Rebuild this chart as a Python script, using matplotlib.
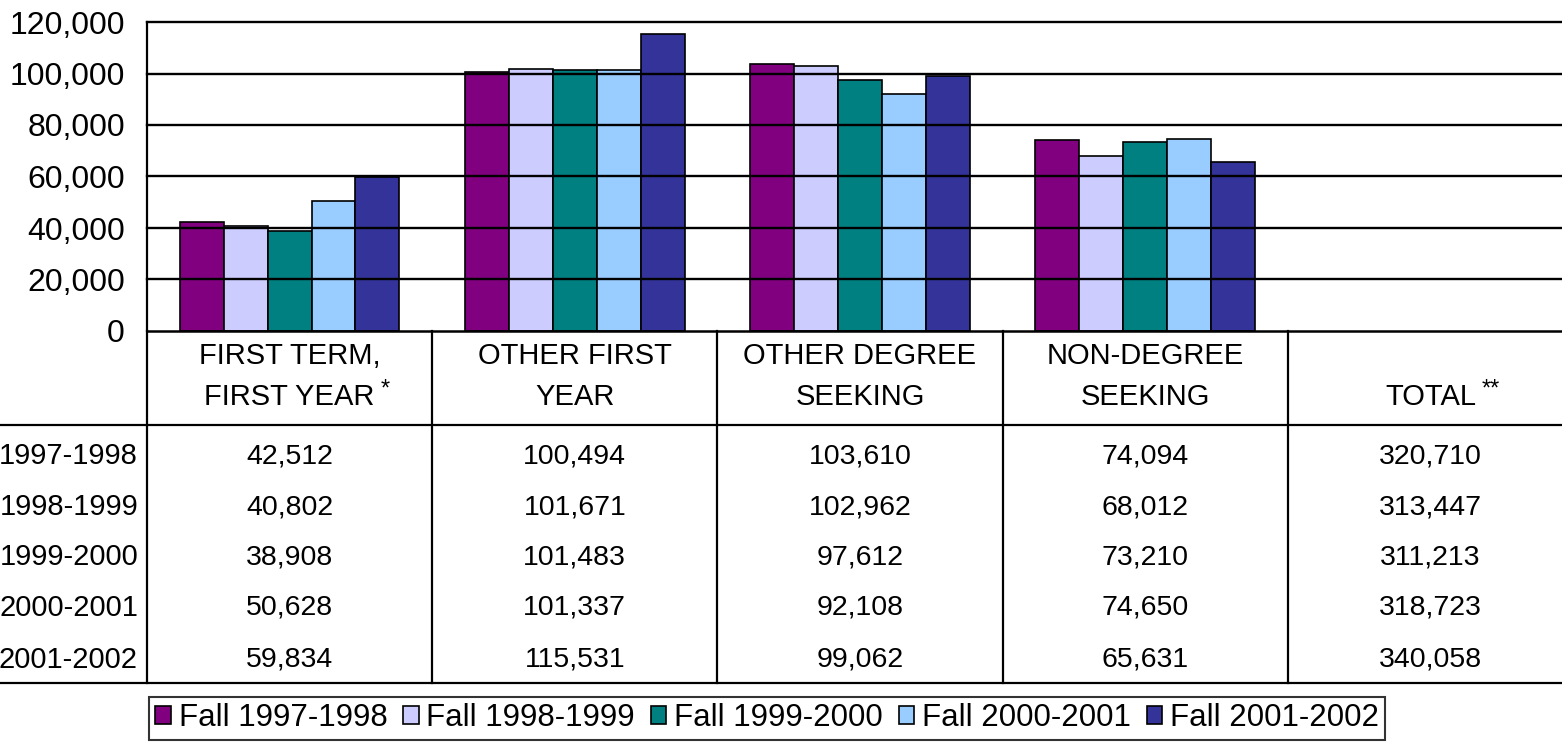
import numpy as np
import matplotlib
matplotlib.use("Agg")
import matplotlib.pyplot as plt
import matplotlib.transforms as mtransforms
from matplotlib.patches import Patch
from matplotlib.lines import Line2D

plt.rcParams['font.family'] = ['Liberation Sans', 'DejaVu Sans']

# data
header_top = ["FIRST TERM,", "OTHER FIRST", "OTHER DEGREE", "NON-DEGREE", ""]
header_bottom = ["FIRST YEAR", "YEAR", "SEEKING", "SEEKING", "TOTAL"]
header_stars = ["*", "", "", "", "**"]
years = ["1997-1998", "1998-1999", "1999-2000", "2000-2001", "2001-2002"]
legend_labels = ["Fall 1997-1998", "Fall 1998-1999", "Fall 1999-2000", "Fall 2000-2001", "Fall 2001-2002"]
colors = ["#800080", "#CCCCFF", "#008080", "#99CCFF", "#333399"]

first_term = [42512, 40802, 38908, 50628, 59834]
other_first = [100494, 101671, 101483, 101337, 115531]
other_degree = [103610, 102962, 97612, 92108, 99062]
non_degree = [74094, 68012, 73210, 74650, 65631]
total = [320710, 313447, 311213, 318723, 340058]

columns = [first_term, other_first, other_degree, non_degree, total]
n_bar_groups = 4  # TOTAL has no bars

W, H = 1562, 747
fig = plt.figure(figsize=(W / 100, H / 100), dpi=100)

def fy(p):
    return 1 - p / H

def fx(p):
    return p / W

# axes extends past the right edge like the cropped original
ax = fig.add_axes([fx(147), fy(331), fx(1573) - fx(147), fy(22) - fy(331)])
ax.set_xlim(-0.5, 4.5)
ax.set_ylim(0, 120000)

bw = 0.154
for j in range(5):
    xs = np.arange(n_bar_groups) + (j - 2) * bw
    vals = [columns[i][j] for i in range(n_bar_groups)]
    ax.bar(xs, vals, bw, color=colors[j], edgecolor="black", linewidth=1.2, zorder=2)

for v in np.arange(20000, 120001, 20000):
    ax.axhline(v, color="black", linewidth=1.7, zorder=3, clip_on=False)

ax.set_yticks(np.arange(0, 120001, 20000))
ax.set_yticklabels([f"{int(v):,}" for v in np.arange(0, 120001, 20000)])
ax.tick_params(axis="y", length=0, pad=16, labelsize=23)
ax.set_xticks([])
for s in ["top", "right"]:
    ax.spines[s].set_visible(False)
ax.spines["left"].set_linewidth(1.6)
ax.spines["bottom"].set_linewidth(1.8)
ax.spines["bottom"].set_zorder(4)

# data table below the plot
tr = mtransforms.blended_transform_factory(ax.transData, fig.transFigure)
fs = 21
lw = 1.6

for k in range(6):
    xk = k - 0.5
    fig.add_artist(Line2D([xk, xk], [fy(331), fy(683)], transform=tr, color="black", lw=lw))
fig.add_artist(Line2D([0, 1], [fy(425), fy(425)], transform=fig.transFigure, color="black", lw=lw))
fig.add_artist(Line2D([0, 1], [fy(683), fy(683)], transform=fig.transFigure, color="black", lw=lw))

for i in range(5):
    if header_top[i]:
        fig.text(i, fy(356), header_top[i], transform=tr, ha="center", va="center", fontsize=fs)
    t = fig.text(i, fy(397), header_bottom[i], transform=tr, ha="center", va="center", fontsize=fs)
    if header_stars[i]:
        fig.add_artist(matplotlib.text.Annotation(header_stars[i], xy=(1, 0.78), xycoords=t,
                                                  xytext=(4, 0), textcoords="offset points",
                                                  ha="left", va="center", fontsize=17))

row_y = [456, 507, 557, 608, 660]
for r in range(5):
    fig.text(fx(138), fy(row_y[r]), years[r], ha="right", va="center", fontsize=21)
    for i in range(5):
        fig.text(i, fy(row_y[r]), f"{columns[i][r]:,}", transform=tr, ha="center", va="center", fontsize=20.5)

handles = [Patch(facecolor=c, edgecolor="black", linewidth=1.2) for c in colors]
leg = fig.legend(handles, legend_labels, loc="upper left", bbox_to_anchor=(fx(149), fy(697)),
                 ncol=5, fontsize=22.5, frameon=True, fancybox=False, edgecolor="black",
                 handlelength=0.5, handleheight=0.5, handletextpad=0.25, columnspacing=0.5,
                 borderpad=0.2, borderaxespad=0)
leg.get_frame().set_linewidth(1.5)

fig.savefig("out.png", dpi=100)
